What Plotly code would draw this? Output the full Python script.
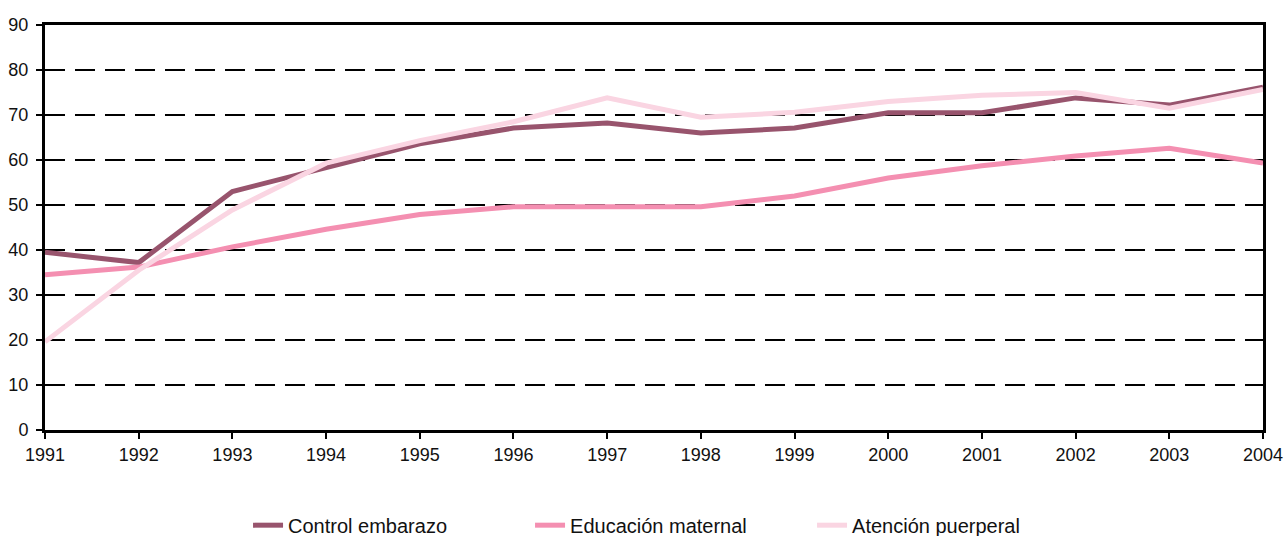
import plotly.graph_objects as go

years = [1991, 1992, 1993, 1994, 1995, 1996, 1997, 1998, 1999, 2000, 2001, 2002, 2003, 2004]
control_embarazo = [39.5, 37.2, 53.0, 58.2, 63.6, 67.1, 68.2, 66.0, 67.1, 70.5, 70.5, 73.8, 72.2, 76.2]
educacion_maternal = [34.5, 36.2, 40.7, 44.6, 47.9, 49.6, 49.6, 49.6, 52.0, 56.0, 58.7, 60.9, 62.6, 59.3]
atencion_puerperal = [19.6, 35.5, 48.9, 59.3, 64.3, 68.5, 73.8, 69.5, 70.6, 73.0, 74.4, 75.0, 71.5, 75.7]

series_names = ["Control embarazo", "Educación maternal", "Atención puerperal"]
series_colors = ["#98546D", "#F48FB1", "#FAD5E2"]
y_ticks = [0, 10, 20, 30, 40, 50, 60, 70, 80, 90]

fig = go.Figure()
for name, vals, col in zip(series_names, [control_embarazo, educacion_maternal, atencion_puerperal], series_colors):
    fig.add_trace(go.Scatter(x=years, y=vals, mode="lines", name=name,
                             line=dict(color=col, width=5)))

fig.update_layout(
    width=1286, height=536,
    margin=dict(l=45, r=23, t=25, b=106, autoexpand=False),
    paper_bgcolor="white", plot_bgcolor="white",
    font=dict(family="Liberation Sans, Arial, sans-serif", size=18, color="#111111"),
    showlegend=True,
    legend=dict(orientation="h", x=0.1667, xanchor="left", y=-0.235, yanchor="middle",
                font=dict(family="Liberation Sans, sans-serif", size=20),
                entrywidth=237, entrywidthmode="pixels", tracegroupgap=0),
)
fig.update_xaxes(
    range=[1991, 2004], tickmode="array", tickvals=years, ticktext=[str(y) for y in years],
    showgrid=False, showline=True, linecolor="black", linewidth=3, mirror=True,
    ticks="outside", ticklen=6, tickwidth=2, tickcolor="black", zeroline=False,
    automargin=False, ticklabelstandoff=0, ticklabeloverflow="allow",
)
fig.update_yaxes(
    range=[0, 90], tickmode="array", tickvals=y_ticks,
    showgrid=True, gridcolor="black", gridwidth=2, griddash="20px,10px",
    showline=True, linecolor="black", linewidth=3, mirror=True,
    ticks="outside", ticklen=6, tickwidth=2, tickcolor="black", zeroline=False,
    automargin=False, ticklabelstandoff=4,
)

# remove the default 8px page margin so the figure fills the window exactly
fig.write_html("out.html", config={"displayModeBar": False},
               post_script="document.body.style.margin='0';document.body.style.overflow='hidden';")
